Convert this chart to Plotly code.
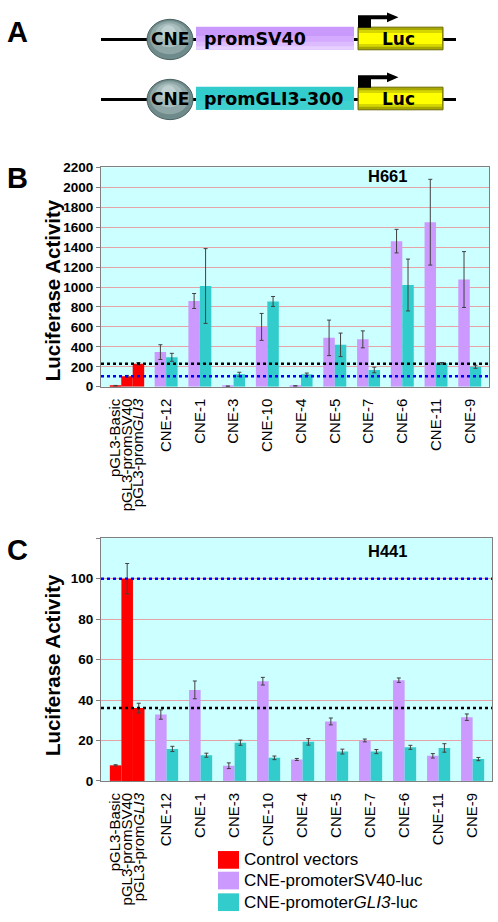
import plotly.graph_objects as go
import numpy as np

W, H = 498, 922

# ---------------- data ----------------
cne_names = ["CNE-12", "CNE-1", "CNE-3", "CNE-10", "CNE-4", "CNE-5", "CNE-7", "CNE-6", "CNE-11", "CNE-9"]
control_labels = ["pGL3-Basic", "pGL3-promSV40", "pGL3-prom<i>GLI3</i>"]
legend_names = ["Control vectors", "CNE-promoterSV40-luc", "CNE-promoter<i>GLI3</i>-luc"]

# Panel B: H661
h661_control = [10, 105, 230]
h661_control_err = [3, 8, 12]
h661_sv40 = [347, 860, 5, 600, 8, 490, 475, 1460, 1650, 1075]
h661_sv40_err = [74, 75, 2, 135, 2, 178, 85, 118, 430, 280]
h661_gli3 = [295, 1010, 125, 855, 125, 420, 168, 1020, 235, 200]
h661_gli3_err = [40, 375, 20, 50, 12, 118, 28, 260, 8, 15]

# Panel C: H441
h441_control = [7.7, 100, 36]
h441_control_err = [0.3, 7.5, 2.4]
h441_sv40 = [32.8, 45, 7.5, 49.3, 10.6, 29.4, 20, 49.8, 12.4, 31.5]
h441_sv40_err = [2.3, 4.4, 1.4, 1.9, 0.5, 1.7, 0.7, 1.1, 1.1, 1.6]
h441_gli3 = [15.8, 12.7, 18.9, 11.4, 19.3, 14.5, 14.5, 16.6, 16.3, 10.8]
h441_gli3_err = [1.3, 1.0, 1.3, 0.9, 1.6, 1.2, 1.0, 1.0, 2.1, 0.8]

# ---------------- styles ----------------
RED, PURPLE, TEAL = "#ff0000", "#cc99ff", "#33cccc"
BG = "#ccffff"
GRID = "#e6a3a8"
AXC = "#808080"
ERRC = "#404040"
FONT = "Liberation Sans, Arial, sans-serif"
VFONT = "DejaVu Sans, Verdana, sans-serif"

BAR_W = 0.34
CTRL_CENTER = -0.16
ctrl_pos = list(CTRL_CENTER + BAR_W * np.array([-1, 0, 1]))
cne_pos = list(np.arange(1, len(cne_names) + 1, dtype=float))
XRANGE = [-0.93, 10.57]


def px(x):
    return x / W


def py(y):
    return 1 - y / H


fig = go.Figure()


def add_panel(xa, ya, ctrl, ctrl_err, sv, sv_err, gl, gl_err):
    err = lambda a: dict(type="data", array=a, visible=True, color=ERRC, thickness=1, width=2)
    fig.add_trace(go.Bar(x=ctrl_pos, y=ctrl, width=BAR_W, marker=dict(color=RED, line=dict(width=0)),
                         error_y=err(ctrl_err), xaxis=xa, yaxis=ya, showlegend=False, name=legend_names[0]))
    fig.add_trace(go.Bar(x=cne_pos, y=sv, width=BAR_W, offset=-BAR_W,
                         marker=dict(color=PURPLE, line=dict(width=0)),
                         error_y=err(sv_err), xaxis=xa, yaxis=ya, showlegend=False, name=legend_names[1]))
    fig.add_trace(go.Bar(x=cne_pos, y=gl, width=BAR_W, offset=0,
                         marker=dict(color=TEAL, line=dict(width=0)),
                         error_y=err(gl_err), xaxis=xa, yaxis=ya, showlegend=False, name=legend_names[2]))


add_panel("x", "y", h661_control, h661_control_err, h661_sv40, h661_sv40_err, h661_gli3, h661_gli3_err)
add_panel("x2", "y2", h441_control, h441_control_err, h441_sv40, h441_sv40_err, h441_gli3, h441_gli3_err)

xcommon = dict(range=XRANGE, tickmode="array", tickvals=ctrl_pos + cne_pos,
               ticktext=control_labels + cne_names, tickangle=-90,
               tickfont=dict(family=FONT, size=15, color="black"),
               showgrid=False, zeroline=False, showline=True, linecolor=AXC, linewidth=1,
               mirror=True, ticks="", ticklabelstandoff=5)
ycommon = dict(showgrid=True, gridcolor=GRID, gridwidth=1, zeroline=False,
               showline=True, linecolor=AXC, linewidth=1, mirror=True,
               ticks="outside", ticklen=4, tickcolor=AXC,
               tickfont=dict(family=FONT, size=13.5, color="black", weight="bold"))

fig.update_layout(
    width=W, height=H, margin=dict(l=0, r=0, t=0, b=0),
    paper_bgcolor="white", plot_bgcolor=BG, barmode="overlay", showlegend=False,
    xaxis=dict(domain=[px(101), px(489)], anchor="y", **xcommon),
    yaxis=dict(domain=[py(386), py(163)], anchor="x", range=[0, 2200], dtick=200, **ycommon),
    xaxis2=dict(domain=[px(101), px(492)], anchor="y2", **xcommon),
    yaxis2=dict(domain=[py(786.7), py(540)], anchor="x2", range=[0, 120], tickmode="array",
                tickvals=[0, 20, 40, 60, 80, 100, 120], ticktext=["0", "20", "40", "60", "80", "100", ""],
                **ycommon),
)

shapes = []
# reference lines at the promoter-only control levels
for ya, xa, ctrl in (("y", "x", h661_control), ("y2", "x2", h441_control)):
    shapes.append(dict(type="line", xref=xa + " domain", yref=ya, x0=0, x1=1, y0=ctrl[2], y1=ctrl[2],
                       line=dict(color="black", width=2.5, dash="dot"), layer="above"))
    shapes.append(dict(type="line", xref=xa + " domain", yref=ya, x0=0, x1=1, y0=ctrl[1], y1=ctrl[1],
                       line=dict(color="#0000ff", width=2.5, dash="dot"), layer="above"))


def rect(x0, y0, x1, y1, fill, lc=None, lw=0):
    return dict(type="rect", xref="paper", yref="paper", x0=px(x0), x1=px(x1), y0=py(y1), y1=py(y0),
                fillcolor=fill, line=dict(width=lw, color=lc or fill), layer="above")


def ell(x0, y0, x1, y1, fill, lc=None, lw=0):
    return dict(type="circle", xref="paper", yref="paper", x0=px(x0), x1=px(x1), y0=py(y1), y1=py(y0),
                fillcolor=fill, line=dict(width=lw, color=lc or fill), layer="above")


def path(pts, fill):
    d = "M " + " L ".join(f"{px(a):.5f},{py(b):.5f}" for a, b in pts) + " Z"
    return dict(type="path", xref="paper", yref="paper", path=d, fillcolor=fill,
                line=dict(width=0, color=fill), layer="above")


annotations = []
rows = [(0, "promSV40", [("#c999fb", 0.0), ("#d3aaff", 0.4), ("#dcbcff", 0.65), ("#e6d0ff", 0.85)]),
        (61, "promGLI3-300", [("#33cccc", 0.0), ("#3fd0d0", 0.6)])]
for dy, label, bands in rows:
    cy = 33 + dy
    shapes.append(rect(101, cy - 1.5, 456, cy + 1.5, "black"))
    # promoter box with soft gradient
    bx0, bx1, by0, by1 = 196, 354, cy - 13, cy + 10.5
    for col, f in bands:
        shapes.append(rect(bx0, by0 + f * (by1 - by0), bx1, by1, col))
    # CNE sphere
    shapes.append(ell(147, cy - 20.5, 193, cy + 20.5, "#6f8a8a", "#4a6262", 1))
    shapes.append(ell(150, cy - 18.5, 189, cy + 15, "#8ea6a6"))
    shapes.append(ell(155, cy - 16.5, 183, cy + 8, "#a7bcbc"))
    shapes.append(ell(161, cy - 14.5, 176, cy + 1, "#bfd0d0"))
    # Luc box
    shapes.append(rect(358, cy - 12.5, 443, cy + 10.5, "#a8a800", "#6b6b00", 1))
    shapes.append(rect(359, cy - 9.5, 442, cy + 7.5, "#d6d600"))
    shapes.append(rect(359, cy - 6.5, 442, cy + 4.5, "#ffff00"))
    # transcription start arrow
    shapes.append(path([(358, cy - 12), (358, cy - 24.5), (387, cy - 24.5), (387, cy - 27.5),
                        (398.5, cy - 22.5), (387, cy - 17.5), (387, cy - 20.5), (371, cy - 20.5),
                        (371, cy - 12)], "black"))
    annotations.append(dict(x=px(170), y=py(cy), xref="paper", yref="paper", text="<b>CNE</b>",
                            showarrow=False, xanchor="center", yanchor="middle",
                            font=dict(family=VFONT, size=17, color="black")))
    annotations.append(dict(x=px(202), y=py(cy), xref="paper", yref="paper", text=f"<b>{label}</b>",
                            showarrow=False, xanchor="left", yanchor="middle",
                            font=dict(family=VFONT, size=17.5, color="black")))
    annotations.append(dict(x=px(398), y=py(cy), xref="paper", yref="paper", text="<b>Luc</b>",
                            showarrow=False, xanchor="center", yanchor="middle",
                            font=dict(family=VFONT, size=17, color="black")))

# panel letters
for letter, x, y in (("A", 17, 25.5), ("B", 17.5, 174), ("C", 17, 552)):
    annotations.append(dict(x=px(x), y=py(y), xref="paper", yref="paper", text=f"<b>{letter}</b>",
                            showarrow=False, xanchor="center", yanchor="middle",
                            font=dict(family=FONT, size=29, color="black")))

# y titles and cell-line labels
for y in (288, 669):
    annotations.append(dict(x=px(52), y=py(y), xref="paper", yref="paper",
                            text="<b>Luciferase Activity</b>", textangle=-90, showarrow=False,
                            xanchor="center", yanchor="middle",
                            font=dict(family=FONT, size=20.5, color="black")))
for txt, y in (("H661", 171.7), ("H441", 553.5)):
    annotations.append(dict(x=px(387), y=py(y), xref="paper", yref="paper", text=f"<b>{txt}</b>",
                            showarrow=False, xanchor="center", yanchor="middle",
                            font=dict(family=FONT, size=16.5, color="black")))

# legend
for (name, col, cy) in zip(legend_names, [RED, PURPLE, TEAL], [867, 888, 910]):
    shapes.append(rect(218, cy - 9, 239, cy + 9, col))
    annotations.append(dict(x=px(242), y=py(cy), xref="paper", yref="paper", text=name,
                            showarrow=False, xanchor="left", yanchor="middle",
                            font=dict(family=FONT, size=17, color="black")))

fig.update_layout(shapes=shapes, annotations=annotations)
fig.write_html("out.html", config={"displayModeBar": False},
               post_script="document.body.style.margin='0px';")
